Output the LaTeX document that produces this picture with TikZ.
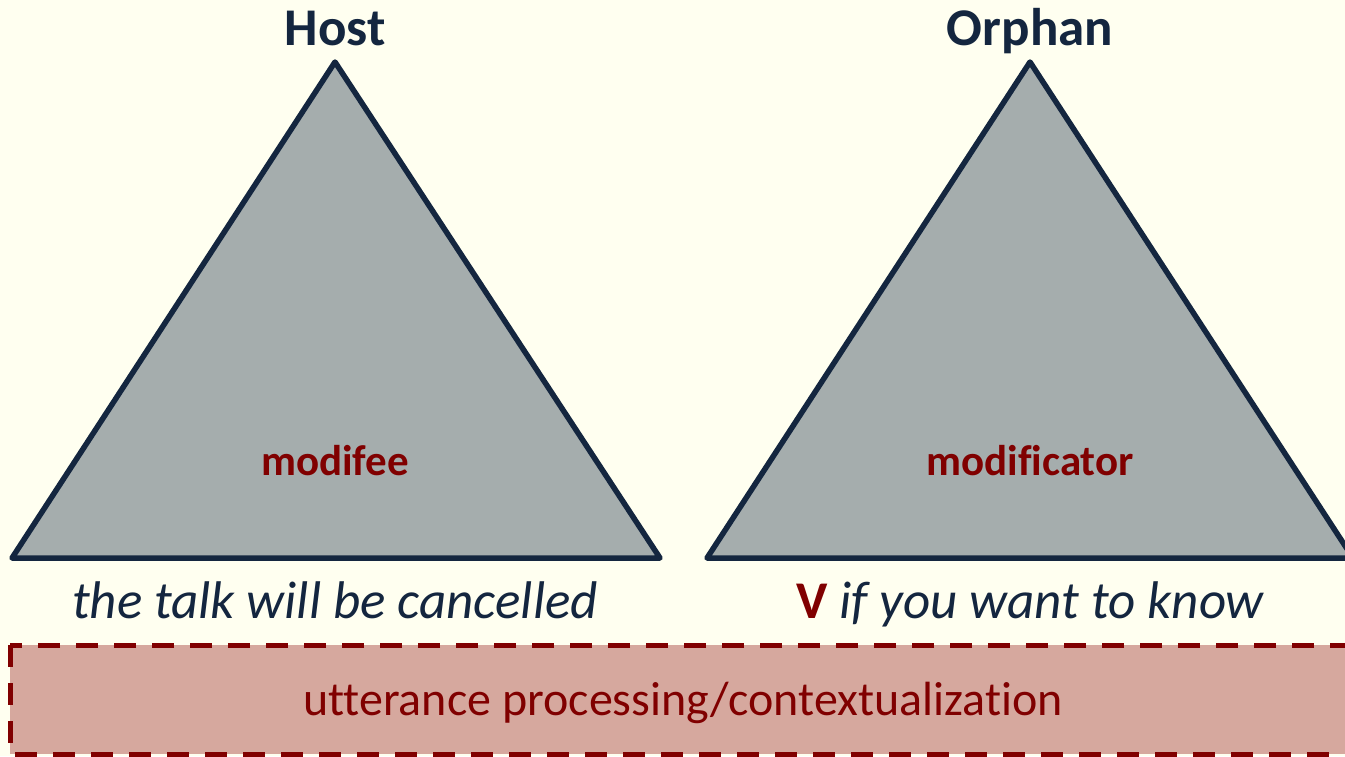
\documentclass[tikz,border=0pt]{standalone}
\usepackage{fontspec}
\setmainfont{Carlito}[Ligatures={NoCommon}]
\usetikzlibrary{positioning}
\definecolor{bgyellow}{HTML}{FFFFF0}
\definecolor{trigray}{HTML}{A5ADAD}
\definecolor{navy}{HTML}{14263F}
\definecolor{darkred}{HTML}{800000}
\definecolor{boxpink}{HTML}{D6A89E}

\begin{document}
\begin{tikzpicture}[
  x=1pt, y=-1pt,
  tri/.style={draw=navy, fill=trigray, line width=5.5pt, line join=round},
  title/.style={font=\bfseries\fontsize{53}{62}\selectfont, text=navy,
                anchor=base, inner sep=0pt},
  role/.style={font=\bfseries\fontsize{43}{50}\selectfont, text=darkred,
               anchor=base, inner sep=0pt},
  example/.style={font=\itshape\fontsize{53}{62}\selectfont, text=navy,
                  anchor=base, inner sep=0pt},
  procbox/.style={draw=darkred, fill=boxpink, line width=5pt,
                  dash pattern=on 22pt off 16pt},
  proctext/.style={font=\fontsize{48}{56}\selectfont, text=darkred,
                   anchor=base, inner sep=0pt},
]
\useasboundingbox (0,0) rectangle (1345,756);
\fill[bgyellow] (0,0) rectangle (1345,756);
\clip (0,0) rectangle (1345,756);

% host tree
\coordinate (hosttop) at (335,62);
\coordinate (hostleft) at (12,558);
\coordinate (hostright) at (660,558);
\draw[tri] (hosttop) -- (hostleft) -- (hostright) -- cycle;
\node[title] (host) at (335,45) {Host};
\node[role] (modifee) at (335,475) {modifee};
\node[example] (hostex) at (335,618) {the talk will be cancelled};

% orphan tree
\coordinate (orphtop) at (1030,62);
\coordinate (orphleft) at (707,558);
\coordinate (orphright) at (1353,558);
\draw[tri] (orphtop) -- (orphleft) -- (orphright) -- cycle;
\node[title] (orphan) at (1030,45) {Orphan};
\node[role] (modificator) at (1030,475) {modificator};
\node[example] (orphex) at (1030,618)
  {\textcolor{darkred}{\upshape\bfseries V} if you want to know};

% processing box
\draw[procbox] (10,645) rectangle (1370,754);
\node[proctext] (proc) at (683,715) {utterance processing/contextualization};
\end{tikzpicture}
\end{document}
